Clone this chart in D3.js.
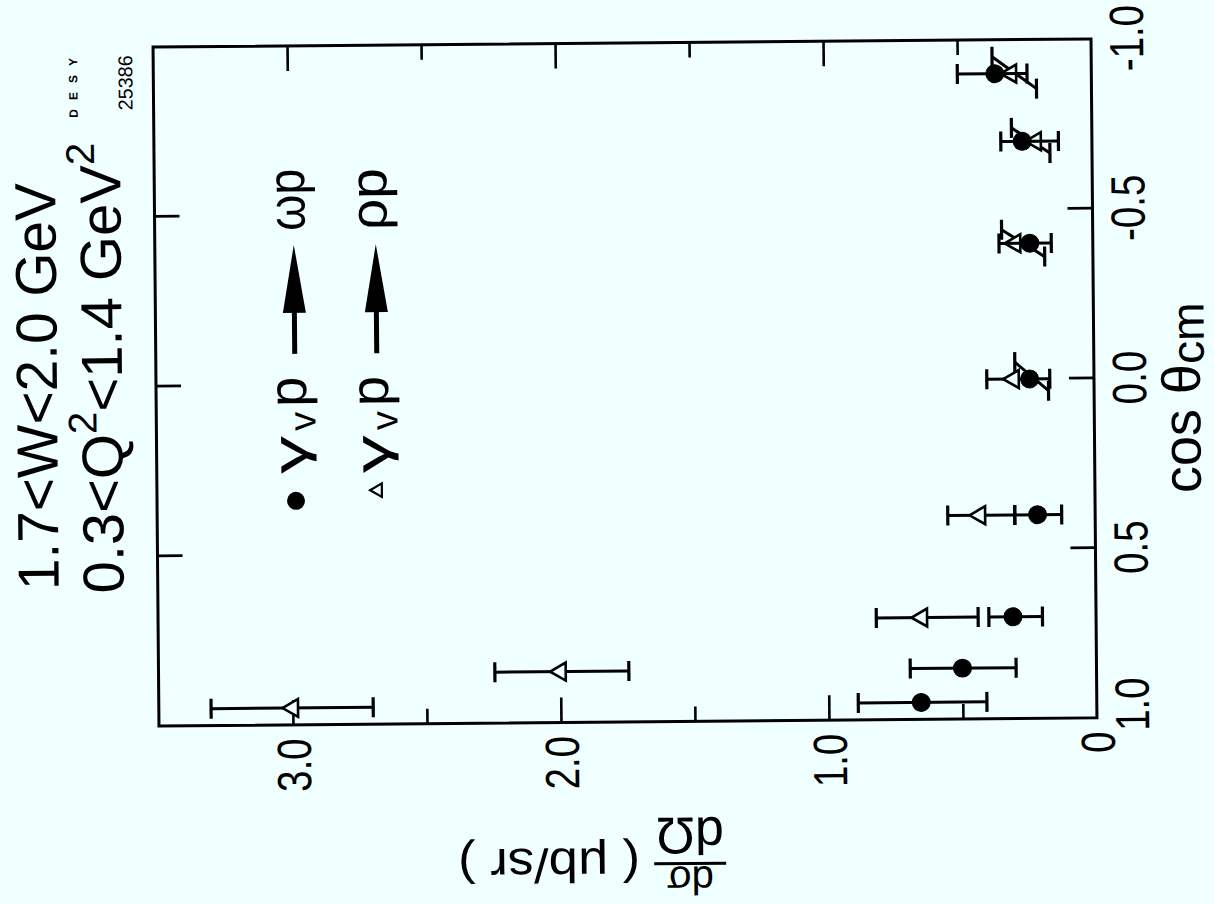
<!DOCTYPE html>
<html><head><meta charset="utf-8">
<script src="https://cdn.jsdelivr.net/npm/d3@7"></script>
<style>
html,body{margin:0;padding:0;background:#f0ffff;}
svg{display:block;}
text{font-family:"Liberation Sans",Arial,Helvetica,sans-serif;fill:#000;}
</style></head><body>
<svg id="chart" width="1214" height="904"></svg>
<script>
// ---------------- data ----------------
const cosBins = [0.95, 0.85, 0.7, 0.4, 0.0, -0.4, -0.7, -0.9];

// gamma_v p -> omega p (filled circles)
const omegaValue   = [0.655, 0.50, 0.31, 0.215, 0.24, 0.235, 0.26, 0.36];
const omegaLo      = [0.41, 0.30, 0.20, 0.125, 0.17, 0.155, 0.125, 0.24];
const omegaHi      = [0.89, 0.695, 0.40, 0.30, 0.295, 0.35, 0.34, 0.50];
const omegaCosAtLo = [0.95, 0.85, 0.7, 0.4, 0.035, -0.4, -0.7, -0.9];
const omegaCosAtHi = [0.95, 0.85, 0.7, 0.4, -0.05, -0.4, -0.7, -0.9];

// gamma_v p -> rho p (open triangles)
const rhoValue   = [3.0, 2.0, 0.65, 0.43, 0.30, 0.29, 0.21, 0.30];
const rhoLo      = [2.70, 1.745, 0.44, 0.30, 0.165, 0.18, 0.157, 0.205];
const rhoHi      = [3.305, 2.245, 0.82, 0.55, 0.40, 0.34, 0.30, 0.37];
const rhoCosAtLo = [0.95, 0.85, 0.7, 0.4, 0.0, -0.36, -0.665, -0.855];
const rhoCosAtHi = [0.95, 0.85, 0.7, 0.4, 0.0, -0.44, -0.74, -0.95];

const cosTicks = [1.0, 0.5, 0.0, -0.5, -1.0];
const valueMajorTicks = [1, 2, 3];
const valueMinorTicks = [0.5, 1.5, 2.5];
const valueLabelTicks = [0, 1, 2, 3];
const valueTickLabels = ["0", "1.0", "2.0", "3.0"];

const titleLine1 = ["1.7<W<2.0 GeV"];
const legendNames = ["ωp", "ρp"];

// ---------------- layout ----------------
const W = 1214, H = 904, bg = "#f0ffff";
const W0 = 679, H0 = 938;          // unrotated plot box (cos along x, dσ/dΩ along y)

const svg = d3.select("#chart");
svg.append("rect").attr("width", W).attr("height", H).attr("fill", bg);
const skew = svg.append("g").attr("transform", "rotate(-0.5,624,383)");
const g = skew.append("g").attr("transform", "translate(156,722) rotate(-90)");

const x = d3.scaleLinear().domain([1, -1]).range([0, W0]);
const y = d3.scaleLinear().domain([0, 3.5]).range([H0, 0]);

// frame
g.append("rect").attr("x", 0).attr("y", 0).attr("width", W0).attr("height", H0)
  .attr("fill", "none").attr("stroke", "#000").attr("stroke-width", 3);

function cleanAxis(sel) {
  sel.select(".domain").remove();
  sel.selectAll(".tick line").attr("stroke", "#000").attr("stroke-width", 2.6);
}

// cos axis (bottom in unrotated frame)
const cosFmt = d => d.toFixed(1);
const axB = g.append("g").attr("transform", `translate(0,${H0})`)
  .call(d3.axisBottom(x).tickValues(cosTicks).tickSizeInner(-25).tickSizeOuter(0)
    .tickPadding(18).tickFormat(cosFmt));
cleanAxis(axB);
axB.selectAll(".tick text")
  .attr("font-size", 48).attr("font-family", "Liberation Sans, Arial, sans-serif")
  .attr("fill", "#000")
  .attr("x", d => d === 1 ? 16 : 0)
  .attr("transform", "scale(0.8,1)");
axB.selectAll(".tick").filter(d => d === 1 || d === -1).select("line").remove();

const axT = g.append("g")
  .call(d3.axisTop(x).tickValues(cosTicks.filter(d => Math.abs(d) < 1)).tickSizeInner(-25).tickSizeOuter(0).tickFormat(""));
cleanAxis(axT);

// value axis (left/right in unrotated frame)
const axLmaj = g.append("g").call(d3.axisLeft(y).tickValues(valueMajorTicks).tickSizeInner(-25).tickSizeOuter(0).tickFormat(""));
const axLmin = g.append("g").call(d3.axisLeft(y).tickValues(valueMinorTicks).tickSizeInner(-15).tickSizeOuter(0).tickFormat(""));
const axRmaj = g.append("g").attr("transform", `translate(${W0},0)`).call(d3.axisRight(y).tickValues(valueMajorTicks).tickSizeInner(-25).tickSizeOuter(0).tickFormat(""));
const axRmin = g.append("g").attr("transform", `translate(${W0},0)`).call(d3.axisRight(y).tickValues(valueMinorTicks).tickSizeInner(-15).tickSizeOuter(0).tickFormat(""));
[axLmaj, axLmin, axRmaj, axRmin].forEach(cleanAxis);

const axLab = g.append("g").call(d3.axisLeft(y).tickValues(valueLabelTicks).tickSize(0).tickPadding(17)
  .tickFormat((d, i) => valueTickLabels[i]));
axLab.select(".domain").remove();
axLab.selectAll(".tick line").remove();
axLab.selectAll(".tick text")
  .attr("font-size", 48).attr("font-family", "Liberation Sans, Arial, sans-serif")
  .attr("fill", "#000").attr("dy", "0.36em")
  .attr("transform", "scale(0.8,1)");

// ---------------- series ----------------
function drawSeries(vals, lo, hi, cLo, cHi, kind) {
  const layer = g.append("g");
  const d = cosBins.map((c, i) => ({c, v: vals[i], lo: lo[i], hi: hi[i], cLo: cLo[i], cHi: cHi[i]}));
  layer.selectAll("line.bar").data(d).join("line").attr("class", "bar")
    .attr("x1", e => x(e.cLo)).attr("y1", e => y(e.lo))
    .attr("x2", e => x(e.cHi)).attr("y2", e => y(e.hi))
    .attr("stroke", "#000").attr("stroke-width", 3);
  const caps = d.flatMap(e => [{c: e.cLo, v: e.lo}, {c: e.cHi, v: e.hi}]);
  layer.selectAll("line.cap").data(caps).join("line").attr("class", "cap")
    .attr("x1", e => x(e.c) - 10).attr("x2", e => x(e.c) + 10)
    .attr("y1", e => y(e.v)).attr("y2", e => y(e.v))
    .attr("stroke", "#000").attr("stroke-width", 3.2);
  const sym = kind === "circle" ? d3.symbol(d3.symbolCircle, 254) : d3.symbol(d3.symbolTriangle, 140);
  layer.selectAll("path.pt").data(d).join("path").attr("class", "pt")
    .attr("d", sym)
    .attr("transform", e => `translate(${x(e.c)},${y(e.v)})`)
    .attr("fill", kind === "circle" ? "#000" : bg)
    .attr("stroke", "#000").attr("stroke-width", kind === "circle" ? 1 : 2.6);
}
drawSeries(rhoValue, rhoLo, rhoHi, rhoCosAtLo, rhoCosAtHi, "triangle");
drawSeries(omegaValue, omegaLo, omegaHi, omegaCosAtLo, omegaCosAtHi, "circle");

// ---------------- texts ----------------
function txt(parent, str, ux, vy, size, opts = {}) {
  const t = parent.append("text").attr("x", ux).attr("y", vy)
    .attr("font-size", size).attr("text-anchor", opts.anchor || "start");
  if (opts.ls) t.attr("letter-spacing", opts.ls);
  if (opts.weight) t.attr("font-weight", opts.weight);
  t.attr("xml:space", "preserve");
  t.text(str);
  return t;
}

// header lines
const h1 = txt(g, titleLine1[0], 137, -99, 58);
h1.attr("textLength", 407).attr("lengthAdjust", "spacingAndGlyphs");
const h2 = g.append("text").attr("x", 133).attr("y", -34).attr("font-size", 58);
h2.append("tspan").text("0.3<Q");
h2.append("tspan").attr("font-size", 40).attr("dy", -26).text("2");
h2.append("tspan").attr("dy", 26).text("<1.4 GeV");
h2.append("tspan").attr("font-size", 40).attr("dy", -26).text("2");

txt(g, "DESY", 609, -76, 12, {ls: 9, weight: "bold"});
txt(g, "25386", 616, -21, 20).attr("textLength", 55).attr("lengthAdjust", "spacingAndGlyphs");

// legend
const legendRows = [{v: 139, base: 150, su: 224, name: legendNames[0], kind: "circle"},
                    {v: 221, base: 232, su: 234, name: legendNames[1], kind: "triangle"}];
legendRows.forEach(r => {
  if (r.kind === "circle") {
    g.append("path").attr("d", d3.symbol(d3.symbolCircle, 254)).attr("transform", `translate(${r.su},${r.v})`).attr("fill", "#000");
  } else {
    g.append("path").attr("d", d3.symbol(d3.symbolTriangle, 80)).attr("transform", `translate(${r.su},${r.v})`)
      .attr("fill", bg).attr("stroke", "#000").attr("stroke-width", 2.2);
  }
  txt(g, "γ", 251, r.base, 48).attr("textLength", 38).attr("lengthAdjust", "spacingAndGlyphs");
  txt(g, "v", 294, r.base + 9, 38);
  txt(g, "p", 318, r.base, 54);
  g.append("line").attr("x1", 371).attr("x2", 414).attr("y1", r.v).attr("y2", r.v)
    .attr("stroke", "#000").attr("stroke-width", 5);
  g.append("path").attr("d", `M412,${r.v - 11.5}L480,${r.v}L412,${r.v + 11.5}Z`).attr("fill", "#000");
  txt(g, r.name, 494, r.base, 52).attr("textLength", 62).attr("lengthAdjust", "spacingAndGlyphs");
});

// cos axis title
const ct = g.append("text").attr("x", 224).attr("y", H0 + 106).attr("font-size", 54).attr("xml:space", "preserve");
ct.append("tspan").text("cos θ");
ct.append("tspan").attr("font-size", 46).attr("dy", 4).text("cm");

// value axis title (fraction + unit)
const yt = g.append("g").attr("transform", "translate(-142,566) rotate(-90)");
yt.append("text").attr("x", 36).attr("y", -3).attr("font-size", 40).attr("text-anchor", "middle").text("dσ");
yt.append("line").attr("x1", 0).attr("x2", 72).attr("y1", 0).attr("y2", 0).attr("stroke", "#000").attr("stroke-width", 3);
yt.append("text").attr("x", 36).attr("y", 46).attr("font-size", 52).attr("text-anchor", "middle").text("dΩ");
yt.append("text").attr("x", 86).attr("y", 16).attr("font-size", 48).attr("xml:space", "preserve")
  .attr("textLength", 182).attr("lengthAdjust", "spacingAndGlyphs").text("( μb/sr )");
</script>
</body></html>
